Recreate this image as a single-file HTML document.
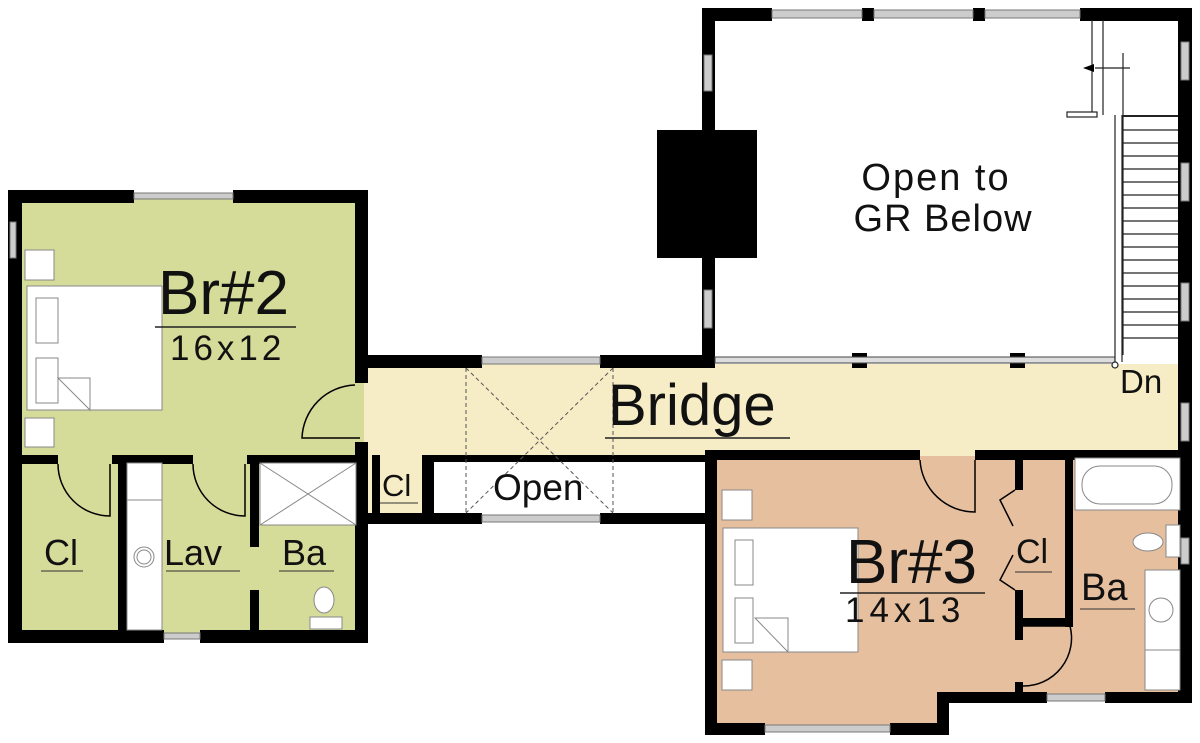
<!DOCTYPE html>
<html><head><meta charset="utf-8"><style>
html,body{margin:0;padding:0;background:#fff;}
svg{display:block}
text{font-family:"Liberation Sans",sans-serif;fill:#111}
</style></head><body>
<svg width="1200" height="743" viewBox="0 0 1200 743" xmlns="http://www.w3.org/2000/svg">
<!-- fills -->
<rect x="14" y="196" width="350" height="442" fill="#d5db98"/>
<rect x="364" y="364" width="820" height="92" fill="#f6ecc6"/>
<rect x="364" y="456" width="70" height="60" fill="#f6ecc6"/>
<path d="M711 456 H1186 V698 H943 V730 H711 Z" fill="#e6bf9f"/>
<rect x="436" y="462" width="272" height="52" fill="#fff"/>
<rect x="712" y="16" width="446" height="344" fill="#fff"/>

<!-- Br#2 walls -->
<g fill="#000">
<rect x="8" y="190" width="126" height="13"/>
<rect x="233" y="190" width="135" height="13"/>
<rect x="8" y="190" width="14" height="453"/>
<rect x="355" y="190" width="13" height="193"/>
<rect x="355" y="442" width="13" height="201"/>
<rect x="8" y="630" width="156" height="13"/>
<rect x="200" y="630" width="168" height="13"/>
<rect x="8" y="455" width="50" height="9"/>
<rect x="112" y="455" width="81" height="9"/>
<rect x="247" y="455" width="121" height="9"/>
<rect x="118" y="455" width="9" height="188"/>
<rect x="250" y="455" width="9" height="92"/>
<rect x="250" y="590" width="9" height="45"/>
</g>
<rect x="134" y="193" width="99" height="6" fill="#ccc" stroke="#777"/>
<rect x="10" y="222" width="6" height="36" fill="#ccc" stroke="#777"/>
<rect x="164" y="633" width="36" height="6" fill="#ccc" stroke="#777"/>
<g fill="#fff" stroke="#888" stroke-width="1">
<rect x="25" y="250" width="29" height="30"/>
<rect x="25" y="418" width="29" height="29"/>
<rect x="27" y="286" width="135" height="124"/>
<rect x="36" y="298" width="22" height="45" fill="none"/>
<rect x="36" y="358" width="22" height="45" fill="none"/>
<path d="M58 378 L90 378 L90 410 Z" fill="none"/>
<rect x="127" y="463" width="35" height="167" fill="#fff"/>
<line x1="127" y1="500" x2="162" y2="500"/>
<circle cx="144" cy="557" r="10" fill="none"/>
<circle cx="144" cy="557" r="7" fill="none"/>
<rect x="260" y="463" width="96" height="62"/>
<line x1="260" y1="463" x2="356" y2="525"/>
<line x1="356" y1="463" x2="260" y2="525"/>
<ellipse cx="324" cy="600" rx="10" ry="13"/>
<rect x="310" y="617" width="32" height="12"/>
</g>
<g fill="none" stroke="#000" stroke-width="1.5">
<path d="M58 464 A52 52 0 0 0 110 516 L110 464"/>
<path d="M193 464 A52 52 0 0 0 245 516 L245 464"/>
<path d="M355 385 A55 55 0 0 0 302 438 L360 438"/>
</g>

<!-- bridge walls -->
<g fill="#000">
<rect x="364" y="355" width="118" height="13"/>
<rect x="600" y="355" width="114" height="13"/>
<rect x="702" y="8" width="13" height="360"/>
<rect x="372" y="455" width="8" height="60"/>
<rect x="422" y="455" width="12" height="60"/>
<rect x="422" y="455" width="288" height="7"/>
<rect x="364" y="513" width="118" height="11"/>
<rect x="600" y="513" width="114" height="11"/>
</g>
<rect x="482" y="357" width="118" height="7" fill="#ccc" stroke="#777"/>
<rect x="482" y="515" width="118" height="7" fill="#ccc" stroke="#777"/>
<g stroke="#555" stroke-width="1" stroke-dasharray="4,3" fill="none">
<line x1="466" y1="368" x2="466" y2="513"/>
<line x1="613" y1="368" x2="613" y2="513"/>
<line x1="466" y1="368" x2="613" y2="513"/>
<line x1="613" y1="368" x2="466" y2="513"/>
</g>

<!-- great room -->
<g fill="#000">
<rect x="702" y="8" width="70" height="13"/>
<rect x="862" y="8" width="12" height="13"/>
<rect x="973" y="8" width="12" height="13"/>
<rect x="1080" y="8" width="112" height="13"/>
<rect x="1178" y="8" width="14" height="690"/>
<rect x="657" y="130" width="100" height="128"/>
<rect x="852" y="353" width="15" height="15"/>
<rect x="1010" y="353" width="15" height="15"/>
</g>
<rect x="772" y="10" width="90" height="8" fill="#ccc" stroke="#777"/>
<rect x="874" y="10" width="99" height="8" fill="#ccc" stroke="#777"/>
<rect x="985" y="10" width="95" height="8" fill="#ccc" stroke="#777"/>
<rect x="704" y="55" width="8" height="36" fill="#ccc" stroke="#777"/>
<rect x="704" y="290" width="8" height="38" fill="#ccc" stroke="#777"/>
<rect x="1181" y="42" width="8" height="38" fill="#ccc" stroke="#777"/>
<rect x="1181" y="163" width="8" height="38" fill="#ccc" stroke="#777"/>
<rect x="1181" y="283" width="8" height="38" fill="#ccc" stroke="#777"/>
<rect x="1181" y="403" width="8" height="38" fill="#ccc" stroke="#777"/>
<rect x="1181" y="538" width="8" height="26" fill="#ccc" stroke="#777"/>
<rect x="715" y="357" width="400" height="6" fill="#ddd" stroke="#444"/>
<g stroke="#222" stroke-width="1.2" fill="none">
<line x1="1092" y1="20" x2="1092" y2="115"/>
<line x1="1103" y1="20" x2="1103" y2="115"/>
<line x1="1115" y1="115" x2="1115" y2="362"/>
<line x1="1122" y1="115" x2="1122" y2="362"/>
<line x1="1123" y1="53" x2="1123" y2="355"/>
<line x1="1095" y1="68" x2="1130" y2="68"/>
<rect x="1067" y="112" width="30" height="5" fill="#fff"/>
<circle cx="1115" cy="365" r="3" fill="#fff"/>
</g>
<polygon points="1083,68 1094,64 1094,72" fill="#000"/>
<g stroke="#222" stroke-width="1.2">
<line x1="1122" y1="130" x2="1178" y2="130"/><line x1="1122" y1="143" x2="1178" y2="143"/>
<line x1="1122" y1="156" x2="1178" y2="156"/><line x1="1122" y1="169" x2="1178" y2="169"/>
<line x1="1122" y1="182" x2="1178" y2="182"/><line x1="1122" y1="195" x2="1178" y2="195"/>
<line x1="1122" y1="208" x2="1178" y2="208"/><line x1="1122" y1="221" x2="1178" y2="221"/>
<line x1="1122" y1="234" x2="1178" y2="234"/><line x1="1122" y1="247" x2="1178" y2="247"/>
<line x1="1122" y1="260" x2="1178" y2="260"/><line x1="1122" y1="273" x2="1178" y2="273"/>
<line x1="1122" y1="286" x2="1178" y2="286"/><line x1="1122" y1="299" x2="1178" y2="299"/>
<line x1="1122" y1="312" x2="1178" y2="312"/><line x1="1122" y1="325" x2="1178" y2="325"/>
<line x1="1122" y1="338" x2="1178" y2="338"/>
</g>
<rect x="1123" y="115" width="55" height="2" fill="#222"/>

<!-- Br#3 walls -->
<g fill="#000">
<rect x="705" y="450" width="215" height="10"/>
<rect x="975" y="450" width="217" height="10"/>
<rect x="705" y="450" width="12" height="285"/>
<rect x="705" y="723" width="60" height="12"/>
<rect x="890" y="723" width="58" height="12"/>
<rect x="937" y="692" width="12" height="43"/>
<rect x="937" y="692" width="110" height="11"/>
<rect x="1105" y="692" width="87" height="11"/>
<rect x="1015" y="455" width="8" height="35"/>
<rect x="1015" y="590" width="8" height="50"/>
<rect x="1015" y="682" width="8" height="12"/>
<rect x="1065" y="455" width="8" height="172"/>
<rect x="1015" y="618" width="58" height="8"/>
</g>
<rect x="765" y="725" width="125" height="7" fill="#ccc" stroke="#777"/>
<rect x="1047" y="694" width="58" height="7" fill="#ccc" stroke="#777"/>
<g fill="#fff" stroke="#888">
<rect x="722" y="490" width="30" height="30"/>
<rect x="722" y="660" width="30" height="30"/>
<rect x="723" y="528" width="135" height="124"/>
<rect x="735" y="540" width="18" height="45" fill="none"/>
<rect x="735" y="598" width="18" height="45" fill="none"/>
<path d="M755 618 L788 618 L788 652 Z" fill="none"/>
<rect x="1075" y="458" width="105" height="52"/>
<rect x="1082" y="466" width="90" height="38" rx="18"/>
<ellipse cx="1148" cy="542" rx="15" ry="9"/>
<rect x="1166" y="525" width="14" height="32"/>
<rect x="1145" y="570" width="35" height="120"/>
<circle cx="1161" cy="610" r="12" fill="none"/>
<line x1="1145" y1="650" x2="1180" y2="650"/>
</g>
<g fill="none" stroke="#000" stroke-width="1.5">
<path d="M920 460 A55 55 0 0 0 975 512 L975 460"/>
<path d="M1015 490 L1000 500 L1013 526"/>
<path d="M1015 590 L1000 580 L1013 555"/>
<path d="M1023 626 L1070 626 A48 48 0 0 1 1023 686"/>
</g>

<!-- labels -->
<text x="158" y="314" font-size="62">Br#2</text>
<line x1="155" y1="327" x2="296" y2="327" stroke="#222" stroke-width="1.5"/>
<text x="170" y="360" font-size="35" letter-spacing="4">16x12</text>
<text x="44" y="565" font-size="36">Cl</text><line x1="41" y1="571" x2="83" y2="571" stroke="#333"/>
<text x="164" y="565" font-size="36">Lav</text><line x1="166" y1="571" x2="240" y2="571" stroke="#333"/>
<text x="282" y="565" font-size="36">Ba</text><line x1="279" y1="571" x2="334" y2="571" stroke="#333"/>
<text x="382" y="496" font-size="31">Cl</text><line x1="380" y1="503" x2="418" y2="503" stroke="#333"/>
<text x="608" y="425" font-size="58">Bridge</text>
<line x1="605" y1="438" x2="790" y2="438" stroke="#222" stroke-width="1.5"/>
<text x="493" y="500" font-size="37">Open</text>
<text x="936" y="190" font-size="38" text-anchor="middle" letter-spacing="2">Open to</text>
<text x="943" y="231" font-size="38" text-anchor="middle" letter-spacing="1">GR Below</text>
<text x="1120" y="393" font-size="33">Dn</text>
<text x="846" y="583" font-size="62">Br#3</text>
<line x1="840" y1="593" x2="985" y2="593" stroke="#222" stroke-width="1.5"/>
<text x="845" y="622" font-size="35" letter-spacing="5">14x13</text>
<text x="1016" y="563" font-size="34">Cl</text><line x1="1015" y1="572" x2="1052" y2="572" stroke="#333"/>
<text x="1081" y="600" font-size="38">Ba</text><line x1="1080" y1="609" x2="1135" y2="609" stroke="#333"/>
</svg>
</body></html>
